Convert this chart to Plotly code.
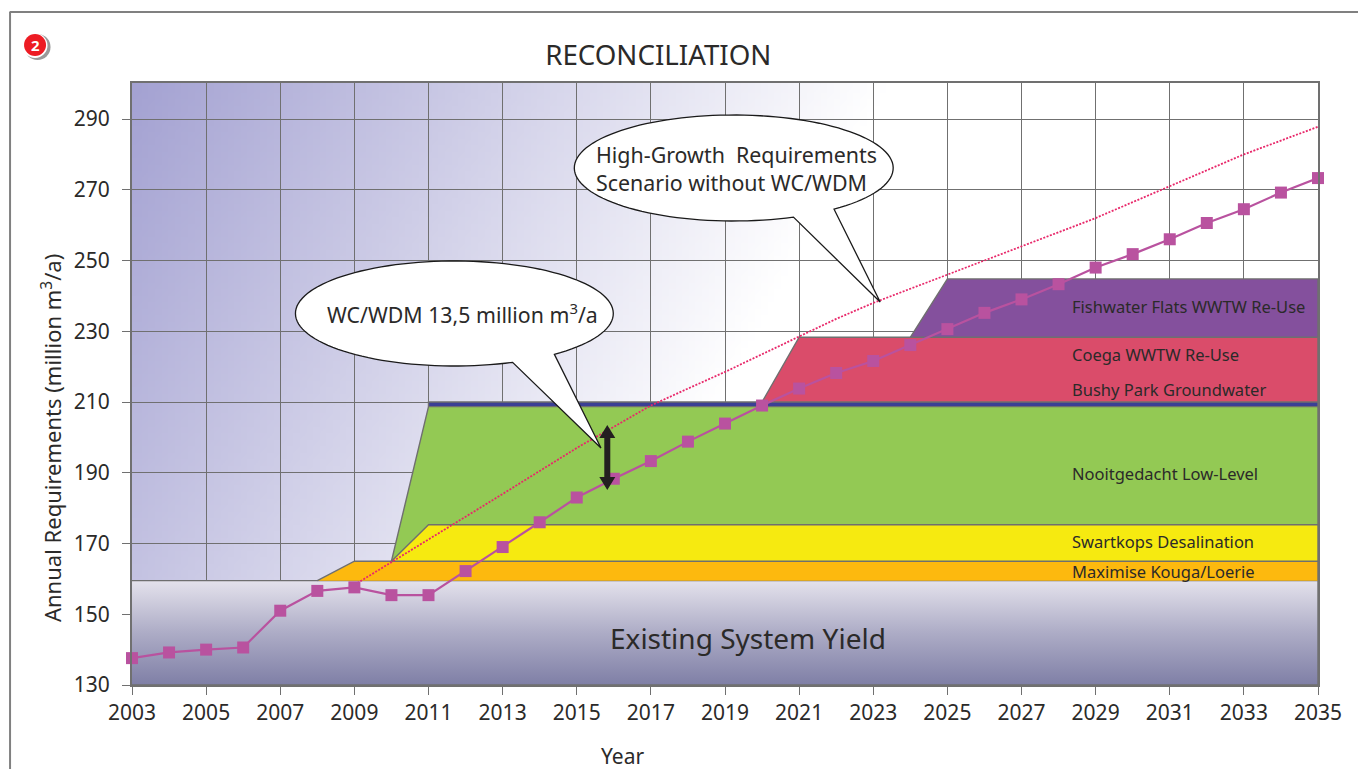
import base64, math, struct, zlib
import plotly.graph_objects as go

# ---------- data ----------
years = list(range(2003, 2036))
requirements = [137.6, 139.2, 140.0, 140.6, 151.0, 156.6, 157.6, 155.4, 155.4, 162.2, 169.0,
                176.0, 183.0, 188.3, 193.3, 198.8, 203.9, 209.0, 213.8, 218.2, 221.6, 226.1,
                230.6, 235.2, 239.0, 243.3, 248.0, 251.8, 256.0, 260.6, 264.5, 269.2, 273.3]
high_years = list(range(2009, 2036))
high_growth = [158.3, 164.7, 171.0, 177.5, 184.0, 190.5, 197.0, 203.0, 209.0, 213.8, 218.5, 223.5,
               228.5, 233.5, 238.0, 242.0, 245.9, 249.8, 253.9, 258.0, 262.0, 266.5, 270.9,
               275.5, 280.0, 284.0, 287.8]

x_ticks = list(range(2003, 2036, 2))
y_ticks = list(range(130, 300, 20))

base_x = [2003, 2035, 2035, 2003]
base_y = [130, 130, 159.5, 159.5]
orange_x = [2008, 2009, 2035, 2035]
orange_y = [159.5, 165, 165, 159.5]
yellow_x = [2010, 2011, 2035, 2035]
yellow_y = [165, 175.3, 175.3, 165]
green_x = [2010, 2011, 2035, 2035, 2011]
green_y = [165, 208.7, 208.7, 175.3, 175.3]
blue_x = [2011, 2011, 2035, 2035]
blue_y = [208.7, 210, 210, 208.7]
red_x = [2020, 2021, 2035, 2035]
red_y = [210, 228.3, 228.3, 210]
purple_x = [2024, 2025, 2035, 2035]
purple_y = [228.3, 244.8, 244.8, 228.3]

block_labels = ["Fishwater Flats WWTW Re-Use", "Coega WWTW Re-Use", "Bushy Park Groundwater",
                "Nooitgedacht Low-Level", "Swartkops Desalination", "Maximise Kouga/Loerie"]
block_label_y = [236.9, 223.3, 213.4, 189.9, 170.7, 162.2]

# ---------- geometry ----------
W, H = 1358, 769
ML, MR, MT, MB = 131.5, 40, 83, 84
PW, PH = W - ML - MR, H - MT - MB
Y_TOP = 130 + PH / 3.5375
FONT = "Noto Sans"
INK = "#2b2a29"
GRID = "#707070"


def px(x):
    return (x - ML) / PW


def py(y):
    return (H - MB - y) / PH


def data_x(x):
    return 2003 + (x - ML) / PW * 32


def data_y(y):
    return 130 + (H - MB - y) / PH * (Y_TOP - 130)


def gradient_png(w=180, h=92):
    """Diagonal page tint behind the grid."""
    rows = bytearray()
    for j in range(h):
        rows.append(0)
        for i in range(w):
            t = min(1, (i / (w - 1)) * PW * 0.001327 + (j / (h - 1)) * PH * 0.000702)
            rows += bytes((round(0xa4 + (255 - 0xa4) * t),
                           round(0xa2 + (255 - 0xa2) * t),
                           round(0xd2 + (255 - 0xd2) * t)))

    def chunk(tag, payload):
        return (struct.pack(">I", len(payload)) + tag + payload +
                struct.pack(">I", zlib.crc32(tag + payload) & 0xffffffff))

    png = (b"\x89PNG\r\n\x1a\n" + chunk(b"IHDR", struct.pack(">IIBBBBB", w, h, 8, 2, 0, 0, 0)) +
           chunk(b"IDAT", zlib.compress(bytes(rows))) + chunk(b"IEND", b""))
    return "data:image/png;base64," + base64.b64encode(png).decode()


def poly_path(points):
    return "M" + " L".join(f"{data_x(x):.3f},{data_y(y):.3f}" for x, y in points) + " Z"


def bubble_path(cx, cy, rx, ry, a1, a2, tip):
    """Speech bubble: ellipse from a1 round to a2, then the tip."""
    pts = []
    n = 120
    for k in range(n + 1):
        a = math.radians(a1 + (a2 - a1) * k / n)
        pts.append((cx + rx * math.cos(a), cy - ry * math.sin(a)))
    pts.append(tip)
    return poly_path(pts)


def double_arrow(x, top, bottom, half_shaft=3, half_head=8, head=13):
    return poly_path([(x, top), (x + half_head, top + head), (x + half_shaft, top + head),
                      (x + half_shaft, bottom - head), (x + half_head, bottom - head), (x, bottom),
                      (x - half_head, bottom - head), (x - half_shaft, bottom - head),
                      (x - half_shaft, top + head), (x - half_head, top + head)])


fig = go.Figure()


def block(x, y, color, name):
    fig.add_trace(go.Scatter(x=x, y=y, mode="lines", fill="toself", fillcolor=color, name=name,
                             line=dict(color="#6f6f6f", width=1.4), hoverinfo="name"))


fig.add_trace(go.Scatter(
    x=base_x, y=base_y, mode="lines", fill="toself", name="Existing System Yield",
    fillgradient=dict(type="vertical",
                      colorscale=[[0, "#7f7fa6"], [0.5, "#adacc6"], [1, "#e4e2ec"]]),
    line=dict(color="#6f6f6f", width=1.4), hoverinfo="name"))
block(purple_x, purple_y, "#84509d", "Fishwater Flats WWTW Re-Use")
block(red_x, red_y, "#da4c6a", "Coega WWTW Re-Use")
block(blue_x, blue_y, "#3b3f95", "Bushy Park Groundwater")
block(green_x, green_y, "#93c954", "Nooitgedacht Low-Level")
block(yellow_x, yellow_y, "#f6ea10", "Swartkops Desalination")
block(orange_x, orange_y, "#fdb90e", "Maximise Kouga/Loerie")

fig.add_trace(go.Scatter(x=high_years, y=high_growth, mode="lines", name="High-Growth",
                         line=dict(color="#e8286a", width=1.8, dash="2px,1.5px")))
fig.add_trace(go.Scatter(x=years, y=requirements, mode="lines+markers", name="Requirements",
                         cliponaxis=False,
                         line=dict(color="#b9529f", width=2.2),
                         marker=dict(symbol="square", size=12, color="#b9529f")))

shapes = [
    # page frame
    dict(type="line", xref="paper", yref="paper", x0=px(9.5), x1=px(9.5), y0=py(12), y1=py(769),
         line=dict(color="#808080", width=2)),
    dict(type="line", xref="paper", yref="paper", x0=px(9), x1=px(1358), y0=py(12), y1=py(12),
         line=dict(color="#808080", width=2)),
    # numbered badge
    dict(type="circle", xref="paper", yref="paper", x0=px(24), x1=px(50), y0=py(60), y1=py(34),
         fillcolor="#9a9a9a", line=dict(width=0)),
    dict(type="circle", xref="paper", yref="paper", x0=px(22), x1=px(47), y0=py(58), y1=py(33),
         fillcolor="#ffffff", line=dict(width=0)),
    dict(type="circle", xref="paper", yref="paper", x0=px(23.5), x1=px(45.5), y0=py(56), y1=py(34),
         fillcolor="#ed1c24", line=dict(width=0)),
    # speech bubbles
    dict(type="path", layer="above", xref="x", yref="y", fillcolor="#ffffff",
         path=bubble_path(454, 313.5, 159, 52.5, -51, 291.5, (600.7, 448)),
         line=dict(color="#1a1a1a", width=1.3)),
    dict(type="path", layer="above", xref="x", yref="y", fillcolor="#ffffff",
         path=bubble_path(733.5, 168, 159.5, 53, -51, 292, (880, 302)),
         line=dict(color="#1a1a1a", width=1.3)),
    # WC/WDM saving arrow
    dict(type="path", layer="above", xref="x", yref="y", fillcolor="#231f20",
         path=double_arrow(607, 425, 490), line=dict(width=0)),
]


def note(text, x, y, size, color=INK, xref="paper", yref="paper", **kw):
    base = dict(text=text, x=x, y=y, xref=xref, yref=yref, showarrow=False, xanchor="center",
                yanchor="middle", font=dict(family=FONT, size=size, color=color))
    base.update(kw)
    return base


annotations = [
    note("Annual Requirements (million m<sup>3</sup>/a)", px(50.5), py(438), 22, textangle=-90),
    note("Year", px(622), py(756), 21),
    note("Existing System Yield", px(748), py(638), 28),
    note("<b>2</b>", px(34.5), py(45), 15, color="#ffffff"),
    note("WC/WDM 13,5 million m<sup>3</sup>/a", px(462.5), py(313), 21.3),
    note("High-Growth  Requirements<br>Scenario without WC/WDM", px(594), py(168), 21.4,
         xanchor="left", align="left"),
]
for label, value in zip(block_labels, block_label_y):
    annotations.append(note(label, data_x(1070), value, 16.5, xref="x", yref="y", xanchor="left"))

axis_common = dict(showgrid=True, gridcolor=GRID, gridwidth=1.3, zeroline=False, showline=True,
                   linecolor=GRID, linewidth=2, mirror=True, ticks="outside", ticklen=8,
                   tickcolor=GRID, tickwidth=1.3, tickfont=dict(family=FONT, size=21, color=INK))

fig.update_layout(
    width=W, height=H, autosize=False, showlegend=False,
    title=dict(text="RECONCILIATION", xref="paper", yref="container", x=px(658), y=1 - 55 / H,
               xanchor="center", yanchor="middle", font=dict(family=FONT, size=27.7, color=INK)),
    paper_bgcolor="#ffffff", plot_bgcolor="rgba(0,0,0,0)",
    margin=dict(l=ML, r=MR, t=MT, b=MB, pad=0),
    xaxis=dict(range=[2003, 2035], tickvals=x_ticks, ticklabelstandoff=0, **axis_common),
    yaxis=dict(range=[130, Y_TOP], tickvals=y_ticks, ticklabelstandoff=8, **axis_common),
    shapes=shapes, annotations=annotations,
    images=[dict(source=gradient_png(), xref="x", yref="y", x=2003, y=Y_TOP, sizex=32,
                 sizey=Y_TOP - 130, sizing="stretch", layer="below")],
)

fig.write_html("out.html", config={"displayModeBar": False},
               post_script="document.body.style.margin='0';document.body.style.overflow='hidden';")
